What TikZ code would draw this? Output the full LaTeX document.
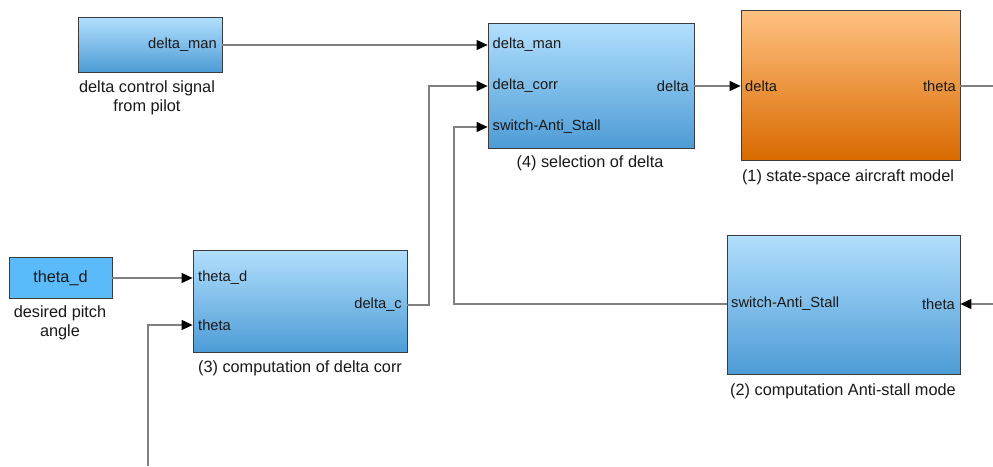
\documentclass[tikz,border=0pt]{standalone}
\usepackage{fontspec}
\setmainfont{Liberation Sans}
\usetikzlibrary{arrows.meta,shadows}
\newcommand\portfont{\fontsize{14.7}{17}\selectfont}
\newcommand\lblfont{\fontsize{16.3}{19}\selectfont}
\definecolor{blueTop}{RGB}{178,223,253}
\definecolor{blueBot}{RGB}{77,156,214}
\colorlet{blueMid}{blueTop!88!blueBot}
\definecolor{orgTop}{RGB}{255,194,130}
\definecolor{orgBot}{RGB}{217,106,0}
\colorlet{orgMid}{orgTop!80!orgBot}
\definecolor{srcBlue}{RGB}{91,187,250}
\definecolor{edge}{RGB}{60,60,60}
\definecolor{wireGray}{RGB}{128,128,128}
\definecolor{ink}{RGB}{25,25,25}
\tikzset{
  block/.style={draw=edge, line width=0.8pt, inner sep=0pt,
    drop shadow={shadow xshift=1.2pt, shadow yshift=-1.2pt, opacity=0.25, fill=black}},
  blueblock/.style={block, top color=blueTop, middle color=blueMid, bottom color=blueBot},
  orangeblock/.style={block, top color=orgTop, middle color=orgMid, bottom color=orgBot},
  srcblock/.style={block, fill=srcBlue},
  port/.style={inner sep=0pt, text=ink, font=\portfont},
  caption/.style={inner sep=0pt, text=ink, font=\lblfont, align=center},
  wire/.style={draw=wireGray, line width=1.1pt},
  sig/.style={wire, -{Triangle[length=11pt,width=10pt,fill=black,color=black]}},
}
\begin{document}
\begin{tikzpicture}[x=1pt,y=-1pt]
\useasboundingbox (0,0) rectangle (993,466);

% pilot input source
\node[blueblock, minimum width=144pt, minimum height=55pt] (src) at (150,44.5) {};
\node[port, anchor=east] (srcout) at (217,45) {delta\_man};
\node[caption] (srccap) at (147,98) {delta control signal\\from pilot};

% desired pitch angle source
\node[srcblock, minimum width=103pt, minimum height=41pt] (thd) at (60.5,277.5) {};
\node[port, font=\lblfont] (thdtxt) at (60.5,278) {theta\_d};
\node[caption] (thdcap) at (60,323) {desired pitch\\angle};

% (3) computation of delta corr
\node[blueblock, minimum width=214pt, minimum height=102pt] (corr) at (300,301) {};
\node[port, anchor=west] (corrin1) at (198,278) {theta\_d};
\node[port, anchor=west] (corrin2) at (198,325) {theta};
\node[port, anchor=east] (corrout) at (402,305) {delta\_c};
\node[caption] (corrcap) at (300,368) {(3) computation of delta corr};

% (4) selection of delta
\node[blueblock, minimum width=206pt, minimum height=125pt] (sel) at (591,85.5) {};
\node[port, anchor=west] (selin1) at (492.5,45) {delta\_man};
\node[port, anchor=west] (selin2) at (492.5,86) {delta\_corr};
\node[port, anchor=west] (selin3) at (492.5,127) {switch-Anti\_Stall};
\node[port, anchor=east] (selout) at (689,86) {delta};
\node[caption] (selcap) at (590,163) {(4) selection of delta};

% (1) state-space aircraft model
\node[orangeblock, minimum width=219pt, minimum height=150pt] (plant) at (850.5,85) {};
\node[port, anchor=west] (plantin) at (745,86) {delta};
\node[port, anchor=east] (plantout) at (956,86) {theta};
\node[caption] (plantcap) at (848,177) {(1) state-space aircraft model};

% (2) computation Anti-stall mode
\node[blueblock, minimum width=233pt, minimum height=139pt] (stall) at (843.5,304.5) {};
\node[port, anchor=west] (stallout) at (731,304) {switch-Anti\_Stall};
\node[port, anchor=east] (stallin) at (955,304) {theta};
\node[caption] (stallcap) at (843,391) {(2) computation Anti-stall mode};

% loose wire ends at the border
\coordinate (thetaBottom) at (148,466);
\coordinate (plantRight) at (993,86);
\coordinate (stallRight) at (993,304);
\coordinate (corrBend) at (429,0);
\coordinate (stallBend) at (454,0);

% signal lines
\draw[sig] (src.east |- srcout) -- (sel.west |- selin1);
\draw[sig] (thd.east |- corrin1) -- (corr.west |- corrin1);
\draw[sig] (thetaBottom) |- (corr.west |- corrin2);
\draw[sig] (corr.east |- corrout) -| (corrBend |- selin2) -- (sel.west |- selin2);
\draw[sig] (stall.west |- stallout) -| (stallBend |- selin3) -- (sel.west |- selin3);
\draw[sig] (sel.east |- selout) -- (plant.west |- plantin);
\draw[wire] (plant.east |- plantout) -- (plantRight);
\draw[sig] (stallRight) -- (stall.east |- stallin);
\end{tikzpicture}
\end{document}
